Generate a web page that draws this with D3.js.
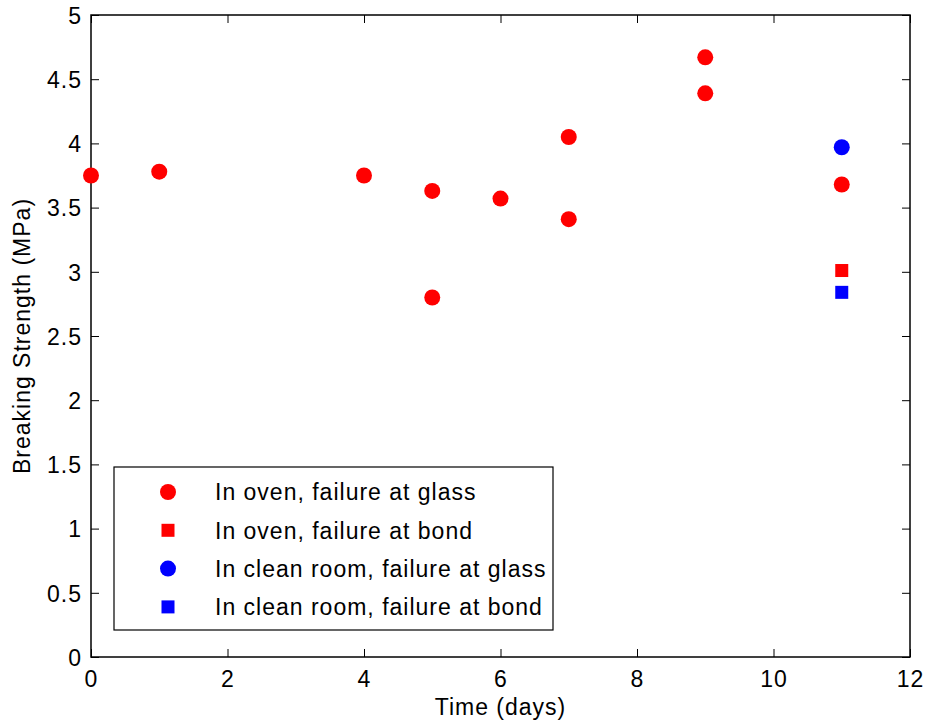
<!DOCTYPE html>
<html>
<head>
<meta charset="utf-8">
<script src="https://cdn.jsdelivr.net/npm/d3@7"></script>
<style>
  body { margin: 0; background: #fff; }
  text { font-family: "Liberation Sans", Arial, sans-serif; fill: #000; letter-spacing: 1px; }
</style>
</head>
<body>
<div id="vis"></div>
<script>
const W = 928, H = 724;
const margin = { top: 15, right: 18, bottom: 67, left: 91 };
const width = W - margin.left - margin.right;
const height = H - margin.top - margin.bottom;

// data
const ovenGlassDays = [0, 1, 4, 5, 5, 6, 7, 7, 9, 9, 11];
const ovenGlassMPa  = [3.75, 3.78, 3.75, 3.63, 2.80, 3.57, 3.41, 4.05, 4.67, 4.39, 3.68];
const ovenBondDays  = [11];
const ovenBondMPa   = [3.01];
const cleanGlassDays = [11];
const cleanGlassMPa  = [3.97];
const cleanBondDays  = [11];
const cleanBondMPa   = [2.84];

const xTicks = [0, 2, 4, 6, 8, 10, 12];
const yTicks = [0, 0.5, 1, 1.5, 2, 2.5, 3, 3.5, 4, 4.5, 5];

const series = [
  { name: 'In oven, failure at glass', color: 'red', shape: 'circle', days: ovenGlassDays, vals: ovenGlassMPa },
  { name: 'In oven, failure at bond', color: 'red', shape: 'square', days: ovenBondDays, vals: ovenBondMPa },
  { name: 'In clean room, failure at glass', color: 'blue', shape: 'circle', days: cleanGlassDays, vals: cleanGlassMPa },
  { name: 'In clean room, failure at bond', color: 'blue', shape: 'square', days: cleanBondDays, vals: cleanBondMPa }
];

const svg = d3.select('#vis').append('svg')
  .attr('width', W).attr('height', H)
  .append('g')
  .attr('transform', `translate(${margin.left},${margin.top})`);

const xScale = d3.scaleLinear().domain([0, 12]).range([0, width]);
const yScale = d3.scaleLinear().domain([0, 5]).range([height, 0]);

const fs = '23px';
const tick = 8;

// axes, matlab style: inward ticks on all four sides
const xAx = svg.append('g').attr('transform', `translate(0,${height})`)
  .call(d3.axisBottom(xScale).tickValues(xTicks).tickSize(-tick).tickPadding(14).tickFormat(d3.format('')));
const xTop = svg.append('g')
  .call(d3.axisTop(xScale).tickValues(xTicks).tickSize(-tick).tickFormat(''));
const yAx = svg.append('g')
  .call(d3.axisLeft(yScale).tickValues(yTicks).tickSize(-tick).tickPadding(9).tickFormat(d3.format('')));
const yRight = svg.append('g').attr('transform', `translate(${width},0)`)
  .call(d3.axisRight(yScale).tickValues(yTicks).tickSize(-tick).tickFormat(''));

[xAx, xTop, yAx, yRight].forEach(g => {
  g.select('.domain').remove();
  g.selectAll('line').attr('stroke', '#000').attr('stroke-width', 1);
  g.selectAll('text').style('font-size', fs).attr('fill', '#000')
    .style('font-family', '"Liberation Sans", Arial, sans-serif');
});
yAx.selectAll('text').attr('dy', '0.36em');
xAx.selectAll('text').attr('dy', '0.71em');

svg.append('rect')
  .attr('width', width).attr('height', height)
  .attr('fill', 'none').attr('stroke', '#000').attr('stroke-width', 1.5);

// axis labels
svg.append('text')
  .attr('x', width / 2).attr('y', height + 58)
  .style('text-anchor', 'middle').style('font-size', fs)
  .text('Time (days)');

svg.append('text')
  .attr('transform', 'rotate(-90)')
  .attr('x', -height / 2).attr('y', -margin.left + 30)
  .style('text-anchor', 'middle').style('font-size', fs)
  .text('Breaking Strength (MPa)');

function drawMarker(g, shape, color, cx, cy) {
  if (shape === 'circle') {
    g.append('circle').attr('cx', cx).attr('cy', cy).attr('r', 8).attr('fill', color);
  } else {
    g.append('rect').attr('x', cx - 6.5).attr('y', cy - 6.5)
      .attr('width', 13).attr('height', 13).attr('fill', color);
  }
}

// points
series.forEach(s => {
  const g = svg.append('g');
  s.days.forEach((d, i) => drawMarker(g, s.shape, s.color, xScale(d), yScale(s.vals[i])));
});

// legend
const lg = svg.append('g').attr('transform', `translate(${114 - margin.left},${467 - margin.top})`);
lg.append('rect').attr('width', 439).attr('height', 163)
  .attr('fill', '#fff').attr('stroke', '#000').attr('stroke-width', 1.2);
series.forEach((s, i) => {
  const cy = 25 + i * 38.3;
  drawMarker(lg, s.shape, s.color, 54, cy);
  lg.append('text').attr('x', 101).attr('y', cy).attr('dy', '0.36em')
    .style('font-size', fs).text(s.name);
});
</script>
</body>
</html>
